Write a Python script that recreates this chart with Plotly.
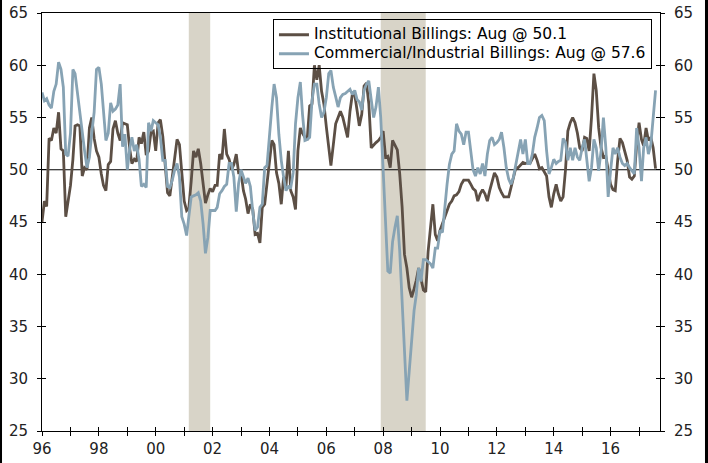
import pandas as pd
import plotly.graph_objects as go

# Monthly AIA billings, Jan 1996 - Aug 2017
institutional = [
    45.0, 47.0, 46.5, 53.0, 52.8, 54.0, 53.5, 55.5, 52.0, 51.8, 45.5, 47.0,  # 1996
    48.5, 51.0, 54.2, 54.3, 54.2, 49.4, 50.2, 50.0, 54.0, 55.0, 53.0, 51.8,  # 1997
    51.2, 49.6, 48.5, 48.0, 50.5, 50.8, 53.9, 54.7, 53.5, 52.8, 54.5, 54.4,  # 1998
    54.3, 52.0, 50.6, 51.0, 50.8, 53.1, 52.5, 53.6, 51.4, 51.8, 53.6, 53.7,  # 1999
    51.8, 54.5, 54.8, 53.2, 50.5, 47.8, 47.5, 49.5, 51.5, 52.9, 52.4, 49.6,  # 2000
    47.0, 46.1, 46.3, 48.9, 51.8, 51.2, 52.0, 50.6, 48.7, 46.8, 47.6, 48.2,  # 2001
    47.9, 48.5, 48.5, 51.5, 51.0, 53.9, 51.5, 51.0, 50.0, 50.5, 51.5, 49.7,  # 2002
    49.7, 48.0, 47.2, 45.8, 46.7, 46.2, 43.8, 43.9, 43.0, 46.4, 46.7, 48.7,  # 2003
    50.6, 52.8, 52.4, 49.7, 48.7, 46.7, 49.3, 48.4, 51.8, 48.0, 47.4, 46.2,  # 2004
    51.8, 54.0, 53.5, 53.1, 53.0, 56.1, 56.3, 60.0, 58.6, 60.0, 57.5, 56.3,  # 2005
    54.1, 51.8, 50.4, 52.4, 54.4, 55.0, 55.6, 55.0, 54.0, 53.1, 55.6, 57.2,  # 2006
    57.2, 55.8, 54.2, 55.3, 58.0, 58.3, 56.3, 52.1, 52.4, 52.6, 52.8, 53.1,  # 2007
    53.7, 51.2, 51.3, 50.2, 52.8, 52.4, 51.9, 49.6, 46.4, 41.9, 40.6, 38.7,  # 2008
    37.8, 38.6, 39.4, 40.6, 39.4, 38.5, 38.3, 42.2, 44.5, 46.7, 43.8, 43.2,  # 2009
    44.2, 44.8, 45.4, 46.1, 46.7, 47.0, 47.5, 47.6, 47.9, 48.6, 49.0, 49.0,  # 2010
    49.0, 48.6, 48.2, 48.0, 47.0, 47.7, 48.1, 47.7, 47.0, 48.0, 49.0, 49.7,  # 2011
    49.3, 48.3, 47.8, 47.4, 47.4, 47.4, 48.3, 49.4, 50.2, 50.2, 50.5, 50.7,  # 2012
    50.6, 50.7, 50.6, 51.0, 51.5, 50.9, 50.1, 50.2, 49.8, 49.4, 47.4, 46.4,  # 2013
    47.7, 48.6, 47.7, 47.0, 47.4, 50.0, 53.7, 54.5, 55.0, 54.5, 53.5, 52.1,  # 2014
    51.8, 53.1, 53.0, 51.8, 55.0, 59.2, 57.6, 54.0, 52.1, 51.2, 51.3, 49.9,  # 2015
    48.6, 48.1, 48.0, 50.9, 53.0, 52.6, 51.8, 50.9, 49.3, 49.1, 49.4, 52.4,  # 2016
    54.5, 52.9, 52.3, 54.0, 52.8, 53.1, 52.1, 50.1,                          # 2017
]
commercial = [
    57.4, 56.6, 56.8, 56.2, 55.9, 57.5, 58.2, 60.3, 59.6, 57.9, 51.5, 51.3,  # 1996
    53.5, 59.6, 59.2, 57.2, 55.3, 53.7, 51.8, 50.2, 51.2, 53.5, 55.5, 59.6,  # 1997
    59.8, 58.2, 55.5, 52.8, 53.5, 56.4, 55.6, 55.8, 56.2, 58.2, 52.2, 53.4,  # 1998
    50.0, 52.0, 53.1, 51.8, 52.4, 51.0, 48.4, 48.6, 48.3, 54.5, 53.7, 54.7,  # 1999
    54.5, 54.3, 53.1, 50.9, 50.9, 48.4, 48.3, 49.0, 50.0, 50.6, 49.3, 45.5,  # 2000
    44.8, 43.7, 45.5, 47.4, 47.5, 47.6, 47.8, 47.0, 44.8, 42.0, 43.5, 46.1,  # 2001
    46.1, 46.1, 46.4, 47.7, 48.0, 48.4, 48.6, 50.6, 50.6, 49.3, 46.0, 48.7,  # 2002
    50.0, 49.3, 48.7, 49.2, 48.4, 46.0, 44.2, 44.5, 46.4, 46.7, 50.2, 50.4,  # 2003
    53.7, 56.0, 58.2, 56.9, 53.4, 50.9, 49.3, 48.0, 48.4, 48.3, 49.7, 54.4,  # 2004
    56.9, 58.4, 55.3, 52.8, 52.9, 53.1, 56.6, 58.2, 58.2, 56.3, 55.0, 55.5,  # 2005
    56.9, 59.2, 59.5, 57.9, 57.0, 56.0, 56.9, 57.2, 57.3, 57.5, 57.7, 57.2,  # 2006
    57.6, 56.7, 56.5, 55.7, 57.6, 58.2, 58.5, 56.7, 55.0, 56.0, 57.9, 55.0,  # 2007
    49.9, 45.1, 40.3, 40.1, 43.1, 44.5, 45.6, 42.2, 37.5, 32.4, 27.9, 30.7,  # 2008
    33.6, 36.5, 38.0, 40.6, 39.3, 41.4, 41.4, 41.2, 41.0, 40.6, 42.5, 42.5,  # 2009
    44.2, 44.0, 46.4, 48.6, 50.5, 51.5, 51.8, 54.4, 53.7, 53.4, 52.4, 53.6,  # 2010
    53.6, 51.5, 50.0, 49.4, 50.2, 49.6, 50.6, 49.4, 51.5, 52.8, 53.1, 52.4,  # 2011
    52.6, 52.9, 53.6, 52.1, 50.2, 49.1, 48.6, 49.3, 50.5, 51.5, 52.9, 51.5,  # 2012
    52.9, 50.6, 50.6, 51.5, 53.1, 54.0, 55.0, 55.2, 54.7, 51.8, 49.6, 50.2,  # 2013
    51.0, 50.6, 50.8, 50.9, 53.0, 52.6, 50.9, 52.1, 50.9, 52.1, 51.2, 50.9,  # 2014
    52.1, 52.9, 51.2, 48.9, 50.2, 52.9, 52.1, 49.9, 51.8, 55.0, 52.1, 47.4,  # 2015
    49.9, 52.1, 51.5, 52.1, 51.2, 50.6, 50.4, 50.6, 50.2, 49.9, 49.6, 54.0,  # 2016
    52.1, 48.9, 52.1, 53.1, 51.5, 52.4, 55.0, 57.6,                          # 2017
]
dates = pd.date_range("1996-01-01", periods=len(institutional), freq="MS")

inst_label = "Institutional Billings: Aug @ 50.1"
comm_label = "Commercial/Industrial Billings: Aug @ 57.6"

recessions = [("2001-03-01", "2001-12-01"), ("2007-12-01", "2009-07-01")]

BROWN = "#5c4f45"
BLUE = "#87a3b4"
SHADE = "#d8d4c8"
FONT = "DejaVu Sans"
X_RANGE = ["1996-01-01", "2017-09-27"]
Y_RANGE = [25, 65]
LEGEND_TEXT_PX = 15.5


def legend_name(text):
    return '<span style="font-size:%spx">%s</span>' % (LEGEND_TEXT_PX, text)


fig = go.Figure()
fig.add_trace(go.Scatter(x=dates, y=institutional, mode="lines", name=legend_name(inst_label),
                         line=dict(color=BROWN, width=2.8), xaxis="x", yaxis="y"))
fig.add_trace(go.Scatter(x=dates, y=commercial, mode="lines", name=legend_name(comm_label),
                         line=dict(color=BLUE, width=2.8), xaxis="x", yaxis="y"))
# helper traces so the overlay axes (right labels, crossing ticks) are drawn
for xa, ya in [("x", "y2"), ("x2", "y3"), ("x", "y4")]:
    fig.add_trace(go.Scatter(x=[dates[0]], y=[None], mode="lines", showlegend=False,
                             hoverinfo="skip", xaxis=xa, yaxis=ya))

for s, e in recessions:
    fig.add_shape(type="rect", xref="x", yref="paper", x0=s, x1=e, y0=0, y1=1,
                  fillcolor=SHADE, line=dict(width=0), layer="below")
fig.add_shape(type="line", xref="paper", yref="y", x0=0, x1=1, y0=50, y1=50,
              line=dict(color="black", width=1), layer="below")
# dark frame strips at the picture edges
fig.add_shape(type="rect", xref="paper", yref="paper", x0=-0.08, x1=-0.0647,
              y0=-0.1, y1=1.05, fillcolor="black", line=dict(width=0))
fig.add_shape(type="rect", xref="paper", yref="paper", x0=1.0728, x1=1.09,
              y0=-0.1, y1=1.05, fillcolor="black", line=dict(width=0))

tickfont = dict(family=FONT, size=15, color="#222")
common_x = dict(type="date", range=X_RANGE, showgrid=False, zeroline=False,
                dtick="M24", tick0="1996-01-01", tickformat="%y", ticklen=4,
                tickcolor="black", tickwidth=1, automargin=False)
common_y = dict(range=Y_RANGE, dtick=5, ticklen=4, tickcolor="black", showgrid=False,
                zeroline=False, automargin=False)
fig.update_layout(
    width=708, height=463,
    margin=dict(l=42, r=48, t=13, b=32, autoexpand=False),
    paper_bgcolor="white", plot_bgcolor="white",
    font=dict(family=FONT, color="black"),
    xaxis=dict(**common_x, ticks="outside", showline=True, linecolor="black",
               linewidth=1, mirror=True, tickfont=tickfont,
               minor=dict(dtick="M12", tick0="1997-01-01", ticks="outside",
                          ticklen=4, tickcolor="black")),
    xaxis2=dict(**common_x, overlaying="x", anchor="y", ticks="inside",
                showticklabels=False, showline=False,
                minor=dict(dtick="M12", tick0="1997-01-01", ticks="inside",
                           ticklen=4, tickcolor="black")),
    yaxis=dict(**common_y, ticks="outside", showline=True, linecolor="black",
               linewidth=1, tickfont=tickfont, side="left", ticklabelstandoff=6),
    yaxis2=dict(**common_y, ticks="outside", showline=True, linecolor="black",
                linewidth=1, tickfont=tickfont, side="right", overlaying="y",
                anchor="x", ticklabelstandoff=6),
    yaxis3=dict(**common_y, ticks="inside", showline=False, showticklabels=False,
                side="left", overlaying="y", anchor="x2"),
    yaxis4=dict(**common_y, ticks="inside", showline=False, showticklabels=False,
                side="right", overlaying="y", anchor="x"),
    legend=dict(x=0.987, xanchor="right", y=0.985, yanchor="top",
                bgcolor="rgba(255,255,255,0)", bordercolor="black", borderwidth=1,
                font=dict(family=FONT, size=10, color="black"),
                itemwidth=30, tracegroupgap=0),
    showlegend=True,
)

fig.write_html("out.html", config={"displayModeBar": False},
               post_script="document.body.style.margin='0';")
